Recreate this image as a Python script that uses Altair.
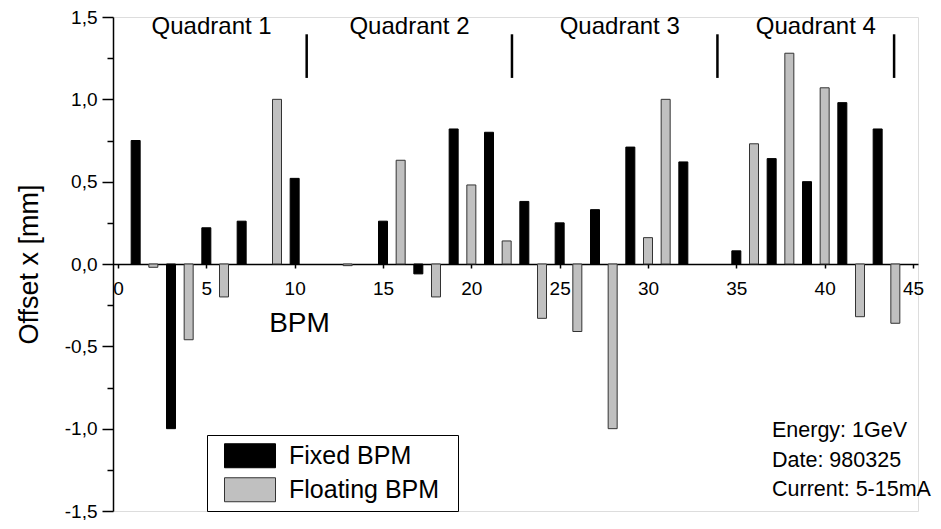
import altair as alt
import pandas as pd

# ---- data ----
fixed_bpm = [1, 3, 5, 7, 10, 15, 17, 19, 21, 23, 25, 27, 29, 32, 35, 37, 39, 41, 43]
fixed_offset = [0.75, -1.0, 0.22, 0.26, 0.52, 0.26, -0.06, 0.82, 0.80, 0.38, 0.25,
                0.33, 0.71, 0.62, 0.08, 0.64, 0.50, 0.98, 0.82]
floating_bpm = [2, 4, 6, 9, 13, 16, 18, 20, 22, 24, 26, 28, 30, 31, 36, 38, 40, 42, 44]
floating_offset = [-0.02, -0.46, -0.20, 1.00, -0.01, 0.63, -0.20, 0.48, 0.14, -0.33,
                   -0.41, -1.00, 0.16, 1.00, 0.73, 1.28, 1.07, -0.32, -0.36]
series_names = ["Fixed BPM", "Floating BPM"]

quadrant_names = ["Quadrant 1", "Quadrant 2", "Quadrant 3", "Quadrant 4"]
quadrant_centers = [5.3, 16.5, 28.4, 39.5]
quadrant_separators = [10.68, 22.3, 33.93, 43.93]
annotation_lines = ["Energy: 1GeV", "Date: 980325", "Current: 5-15mA"]

x_ticks = [0, 5, 10, 15, 20, 25, 30, 35, 40, 45]
y_ticks = [-1.5, -1.25, -1.0, -0.75, -0.5, -0.25, 0.0, 0.25, 0.5, 0.75, 1.0, 1.25, 1.5]

FONT = "Liberation Sans"
W, H = 805, 494
TOP = 9  # plot top at page y = 8 + TOP

bars = pd.DataFrame({
    "bpm": fixed_bpm + floating_bpm,
    "offset": fixed_offset + floating_offset,
    "series": [series_names[0]] * len(fixed_bpm) + [series_names[1]] * len(floating_bpm),
})
quads = pd.DataFrame({"name": quadrant_names, "x": quadrant_centers})
seps = pd.DataFrame({"x": quadrant_separators})
annot = pd.DataFrame({"t": ["\n".join(annotation_lines)]})

xscale = alt.Scale(domain=[0, 45], nice=False, zero=False)
yscale = alt.Scale(domain=[-1.5, 1.5], nice=False)

legend = alt.Legend(
    title="\u2800", titleOrient="right", titlePadding=11, titleFontSize=5,
    titleColor="white",
    orient="none", legendX=94, legendY=435 - 8 - TOP,
    symbolType="M-1,-0.47H1V0.47H-1Z", symbolSize=2601, symbolStrokeWidth=1,
    symbolOffset=13, labelOffset=13, clipHeight=33.5, rowPadding=0,
    padding=4, strokeColor="black", fillColor="white", cornerRadius=0,
    labelFont=FONT, labelFontSize=25, labelColor="black", labelLimit=400,
)

xaxis = alt.Axis(
    values=x_ticks, offset=-H / 2, tickSize=4, tickWidth=1.5, tickColor="black",
    domainColor="black", domainWidth=1.5, labelFont=FONT, labelFontSize=19,
    labelColor="black", labelPadding=11, labelFlush=False, grid=False,
    title="BPM", titleFont=FONT, titleFontSize=28, titleFontWeight="normal",
    titleColor="black", titleX=186, titleY=67, titleBaseline="alphabetic",
    titleAnchor="start", titleAlign="center",
)

yaxis = alt.Axis(
    values=y_ticks, grid=False, domainColor="black", domainWidth=1.5,
    tickColor="black", tickWidth=1.5,
    tickSize={"condition": {"test": "abs(datum.value * 4) % 2 == 0", "value": 11}, "value": 6},
    labelExpr="abs(datum.value * 4) % 2 == 0 ? replace(replace(format(datum.value, '.1f'), '.', ','), '\u2212', '-') : ''",
    labelFont=FONT, labelFontSize=19, labelColor="black", labelPadding=5,
    title="Offset x [mm]", titleFont=FONT, titleFontSize=27, titleFontWeight="normal",
    titleColor="black", titleX=-76, titleY=H / 2, titleBaseline="alphabetic",
    titleAlign="center", titleAngle=270,
)

bar_layer = alt.Chart(bars).mark_bar(size=9, strokeWidth=1).encode(
    x=alt.X("bpm:Q", scale=xscale, axis=xaxis),
    y=alt.Y("offset:Q", scale=yscale, axis=yaxis),
    color=alt.Color("series:N", scale=alt.Scale(domain=series_names, range=["black", "#c0c0c0"]), legend=legend),
    stroke=alt.Stroke("series:N", scale=alt.Scale(domain=series_names, range=["black", "#333333"]), legend=legend),
)

quad_layer = alt.Chart(quads).mark_text(
    font=FONT, fontSize=24, color="black", align="center", baseline="alphabetic"
).encode(x=alt.X("x:Q", scale=xscale), y=alt.datum(1.395), text="name:N")

sep_layer = alt.Chart(seps).mark_rule(color="black", strokeWidth=2.5).encode(
    x=alt.X("x:Q", scale=xscale), y=alt.datum(1.395), y2=alt.datum(1.13)
)

annot_layer = alt.Chart(annot).mark_text(
    font=FONT, fontSize=21.5, color="black", align="left", baseline="alphabetic",
    lineBreak="\n", lineHeight=29.5,
).encode(x=alt.value(772 - 113), y=alt.value(437 - 8 - TOP), text="t:N")

chart = alt.layer(bar_layer, sep_layer, quad_layer, annot_layer).properties(
    width=W, height=H,
    autosize=alt.AutoSizeParams(type="none"),
    padding={"left": 105, "top": TOP, "right": 15, "bottom": 9},
).configure_view(stroke=None).configure(background="white")

chart.save("out.html", embed_options={"renderer": "svg", "actions": False})
